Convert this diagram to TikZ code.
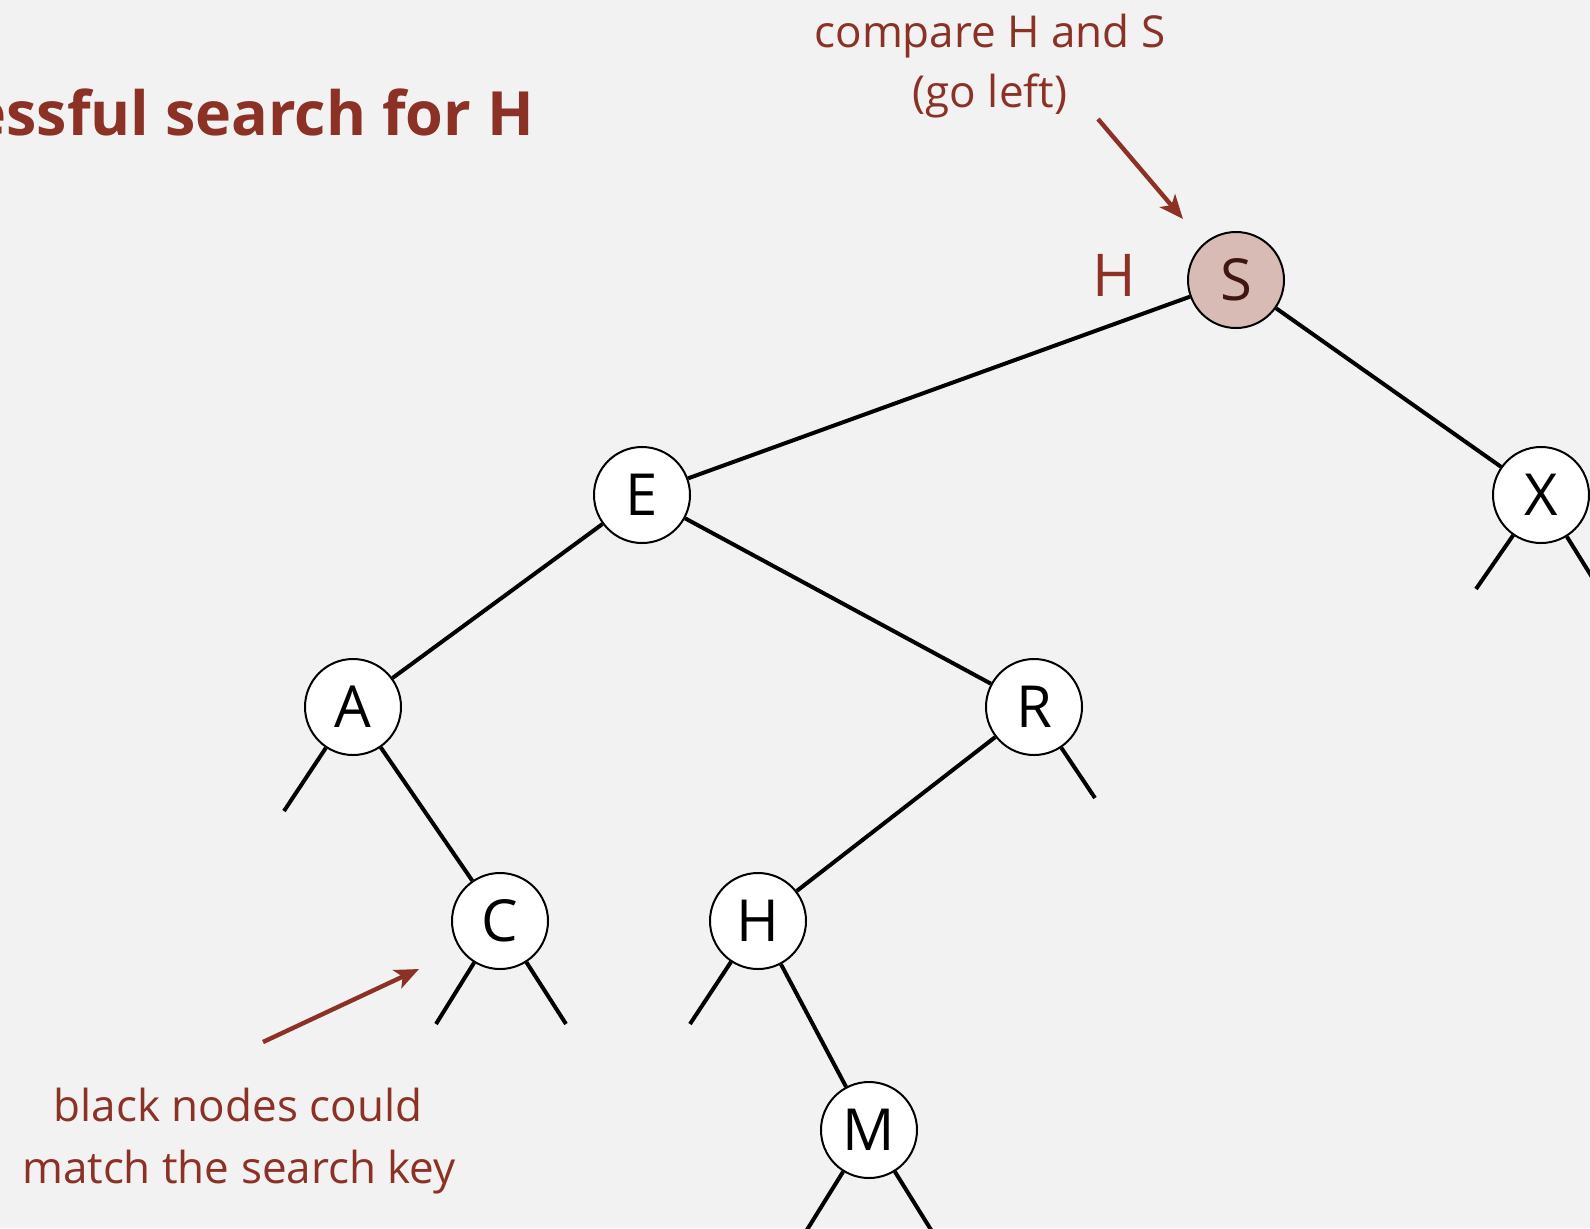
\documentclass[tikz,border=0pt]{standalone}
\usepackage{fontspec}
\setmainfont{Open Sans}
\usetikzlibrary{arrows.meta}
\definecolor{bookred}{RGB}{139,49,38}
\definecolor{bglight}{RGB}{242,242,242}
\definecolor{hitfill}{RGB}{216,187,181}
\definecolor{hittext}{RGB}{64,22,16}

\begin{document}
\begin{tikzpicture}[x=0.5pt,y=-0.5pt,
    key/.style={circle,draw=black,line width=1pt,fill=white,minimum size=48pt,inner sep=0pt,font=\fontsize{29}{29}\selectfont},
    link/.style={line width=2pt,draw=black},
    note/.style={text=bookred,font=\fontsize{22}{27}\selectfont,anchor=base},
    pointer/.style={-{Stealth[length=12pt,width=10pt,inset=3pt]},line width=2.2pt,draw=bookred}]

                % 背景
                \fill[bglight] (0,0) rectangle (1590,1228);
                \clip (0,0) rectangle (1590,1228);

                % 标题
                \node[anchor=base east,text=bookred,font=\bfseries\fontsize{30.5}{36}\selectfont] (title) at (541,135) {Successful search for H};

                % 绘制结点
                \node[key,fill=hitfill,text=hittext] (S) at (1236,280) {S};
                \node[key] (E) at (642,495) {E};
                \node[key] (X) at (1541,495) {X};
                \node[key] (A) at (353,707) {A};
                \node[key] (R) at (1034,707) {R};
                \node[key] (C) at (500,921) {C};
                \node[key] (H) at (758,921) {H};
                \node[key] (M) at (869,1130) {M};

                % 绘制连线
                \draw[link] (S) -- (E);
                \draw[link] (S) -- (X);
                \draw[link] (E) -- (A);
                \draw[link] (E) -- (R);
                \draw[link] (A) -- (C);
                \draw[link] (R) -- (H);
                \draw[link] (H) -- (M);

                % 空链接
                \coordinate (X-l) at (1476,589);
                \coordinate (X-r) at (1605,598);
                \coordinate (A-l) at (284,811);
                \coordinate (R-r) at (1095,798);
                \coordinate (C-l) at (436,1024);
                \coordinate (C-r) at (566,1024);
                \coordinate (H-l) at (690,1024);
                \coordinate (M-l) at (805,1233);
                \coordinate (M-r) at (933,1233);
                \foreach \n/\m in {X/X-l,X/X-r,A/A-l,R/R-r,C/C-l,C/C-r,H/H-l,M/M-l,M/M-r}
                    \draw[link] (\n) -- (\m);

                % 比较 H 和 S
                \node[text=bookred,font=\fontsize{29.5}{30}\selectfont,anchor=base] (hkey) at (1114,296) {H};
                \node[note] (cmp) at (990,47) {compare H and S};
                \node[note] (go) at (990,107) {(go left)};
                \coordinate (cmp-from) at (1098,119);
                \coordinate (cmp-to) at (1183,219);
                \draw[pointer] (cmp-from) -- (cmp-to);

                % 黑色结点
                \node[note] (blk) at (238,1121) {black nodes could};
                \node[note] (blk2) at (239,1183) {match the search key};
                \coordinate (blk-from) at (263,1042);
                \coordinate (blk-to) at (419,969);
                \draw[pointer] (blk-from) -- (blk-to);
\end{tikzpicture}
\end{document}
